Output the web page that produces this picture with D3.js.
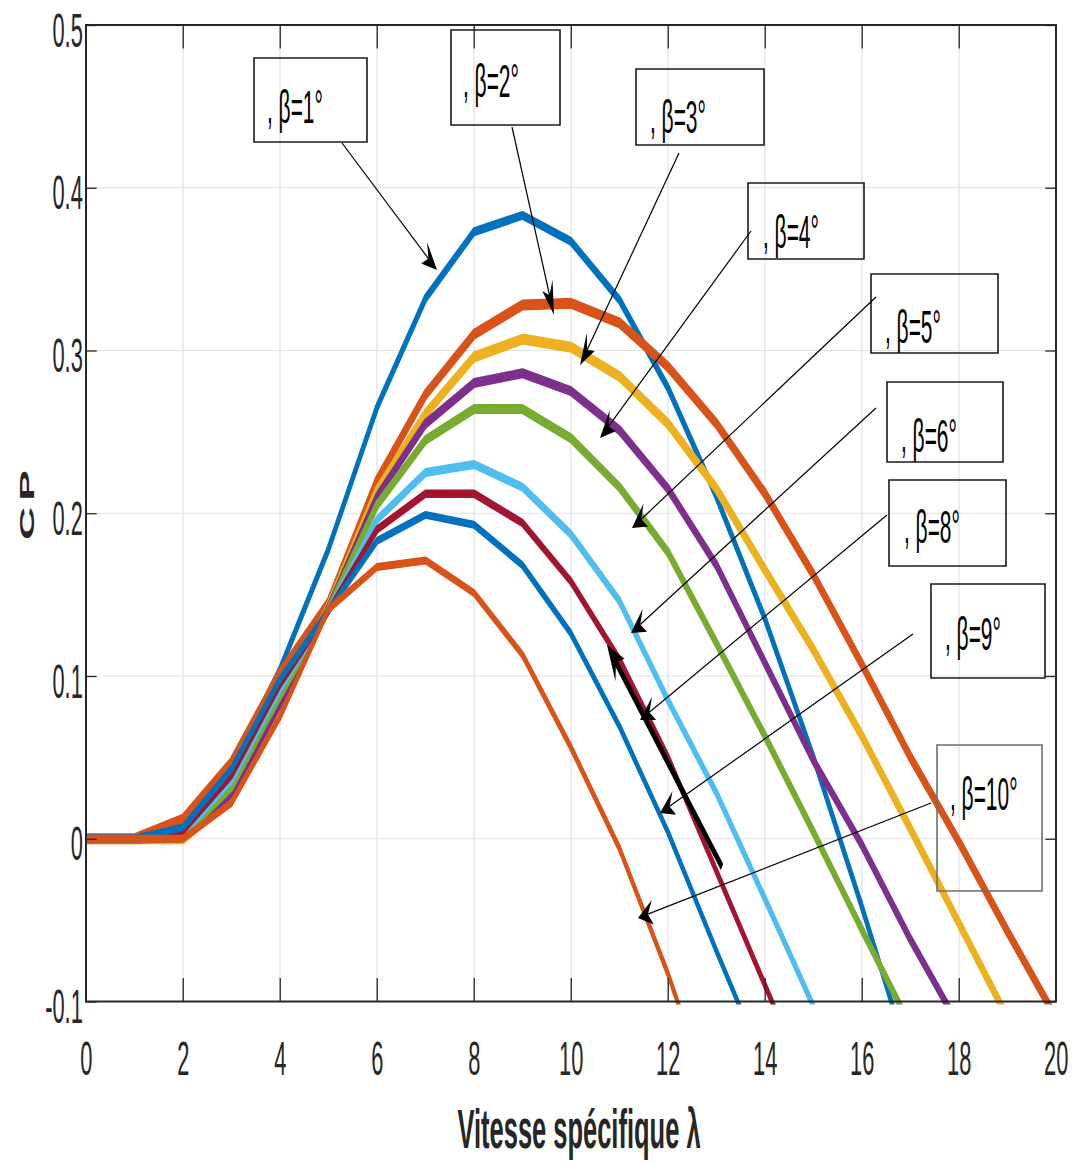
<!DOCTYPE html>
<html>
<head>
<meta charset="utf-8">
<script src="https://cdn.jsdelivr.net/npm/d3@7"></script>
<style>
  html, body { margin: 0; padding: 0; background: #fff; }
  svg { display: block; }
  text { font-family: "Liberation Sans", Arial, Helvetica, sans-serif; }
</style>
</head>
<body>
<svg id="chart" width="1083" height="1163"></svg>
<script>
// ---------------- data ----------------
const lambda = d3.range(0, 21);                      // λ = 0,1,...,20
const seriesLabels = [", β=1°", ", β=2°", ", β=3°", ", β=4°", ", β=5°", ", β=6°", ", β=8°", ", β=9°", ", β=10°"];
const cpBeta1  = [0, 0, 0.007, 0.043, 0.104, 0.178, 0.265, 0.332, 0.373, 0.383, 0.367, 0.331, 0.277, 0.210, 0.135, 0.050, -0.042, -0.138];
const cpBeta2  = [0, 0, 0.012, 0.047, 0.102, 0.145, 0.220, 0.273, 0.310, 0.328, 0.329, 0.317, 0.290, 0.255, 0.212, 0.162, 0.107, 0.050, -0.002, -0.057, -0.110];
const cpBeta3  = [0, 0, 0.000, 0.025, 0.079, 0.143, 0.214, 0.261, 0.296, 0.307, 0.302, 0.284, 0.255, 0.215, 0.165, 0.116, 0.063, 0.006, -0.052, -0.110];
const cpBeta4  = [0, 0, 0.001, 0.028, 0.083, 0.142, 0.210, 0.255, 0.280, 0.286, 0.275, 0.251, 0.215, 0.168, 0.108, 0.048, -0.004, -0.062, -0.115];
const cpBeta5  = [0, 0, 0.002, 0.032, 0.088, 0.141, 0.205, 0.245, 0.264, 0.264, 0.246, 0.216, 0.176, 0.120, 0.063, 0.004, -0.056, -0.115];
const cpBeta6  = [0, 0, 0.003, 0.036, 0.092, 0.140, 0.196, 0.225, 0.230, 0.216, 0.187, 0.146, 0.085, 0.028, -0.037, -0.103];
const cpBeta8  = [0, 0, 0.005, 0.039, 0.095, 0.140, 0.190, 0.212, 0.212, 0.194, 0.158, 0.110, 0.050, -0.020, -0.090, -0.160];
const cpBeta9  = [0, 0, 0.007, 0.043, 0.098, 0.140, 0.183, 0.199, 0.193, 0.168, 0.126, 0.069, 0.004, -0.069, -0.140];
const cpBeta10 = [0, 0, 0.000, 0.022, 0.075, 0.141, 0.167, 0.171, 0.151, 0.113, 0.056, -0.006, -0.083, -0.170];
const seriesValues = [cpBeta1, cpBeta2, cpBeta3, cpBeta4, cpBeta5, cpBeta6, cpBeta8, cpBeta9, cpBeta10];
const xTicks = [0, 2, 4, 6, 8, 10, 12, 14, 16, 18, 20];
const yTicks = [-0.1, 0, 0.1, 0.2, 0.3, 0.4, 0.5];
const yTickLabels = ["-0.1", "0", "0.1", "0.2", "0.3", "0.4", "0.5"];
const xLabel = "Vitesse spécifique λ";
const yLabel = "CP";

// ---------------- styles ----------------
const colors = ["#0072BD", "#D95319", "#EDB120", "#7E2F8E", "#77AC30", "#4DBEEE", "#A2142F", "#0072BD", "#D95319"];
const widths = [9, 11, 11, 10, 10, 9, 8.5, 8, 8];

// the figure is horizontally squeezed: draw in unsqueezed space, then scale x
const S = 0.455;
const X0 = 86 / S, X1 = 1056 / S, Y0 = 25, Y1 = 1001.5;

// annotation layout (figure pixels, as MATLAB figure annotations)
const notes = [
  {box: [254, 58, 367, 142],  text: [267, 123], tail: [342, 143], tip: [437, 270]},
  {box: [451, 30, 560, 125],  text: [463, 97],  tail: [512, 127], tip: [554, 315]},
  {box: [636, 69, 764, 145],  text: [650, 133], tail: [679, 153], tip: [580, 365]},
  {box: [748, 183, 864, 259], text: [763, 248], tail: [751, 231], tip: [600, 438]},
  {box: [871, 274, 998, 353], text: [885, 343], tail: [876, 297], tip: [632, 528]},
  {box: [887, 382, 1003, 462],text: [901, 452], tail: [876, 408], tip: [631, 633]},
  {box: [889, 480, 1006, 566],text: [904, 543], tail: [887, 515], tip: [640, 720]},
  {box: [931, 584, 1045, 678],text: [945, 650], tail: [913, 634], tip: [660, 813]},
  {box: [937, 745, 1042, 891],text: [950, 810], tail: [931, 803], tip: [638, 918], gray: true}
];
const bigArrow = {tail: [722, 867], tip: [607, 645]};

// ---------------- drawing ----------------
const svg = d3.select("#chart");
const root = svg.append("g").attr("transform", `scale(${S},1)`);

const x = d3.scaleLinear().domain([0, 20]).range([X0, X1]);
const y = d3.scaleLinear().domain([-0.1, 0.5]).range([Y1, Y0]);

svg.append("defs").append("clipPath").attr("id", "plotclip")
  .append("rect").attr("x", X0).attr("y", Y0).attr("width", X1 - X0).attr("height", Y1 - Y0 + 3);

// grid
const grid = root.append("g");
grid.selectAll("line.gx").data(xTicks.slice(1, -1)).join("line")
  .attr("x1", d => x(d)).attr("x2", d => x(d)).attr("y1", Y0).attr("y2", Y1)
  .attr("stroke", "#e1e1e1").attr("stroke-width", 1.2).attr("vector-effect", "non-scaling-stroke");
grid.selectAll("line.gy").data(yTicks.slice(1, -1)).join("line")
  .attr("x1", X0).attr("x2", X1).attr("y1", d => y(d)).attr("y2", d => y(d))
  .attr("stroke", "#e1e1e1").attr("stroke-width", 1.2).attr("vector-effect", "non-scaling-stroke");

// data lines
const line = d3.line().x((d, i) => x(lambda[i])).y(d => y(d));
const lines = root.append("g").attr("clip-path", "url(#plotclip)");
seriesValues.forEach((vals, i) => {
  lines.append("path").datum(vals)
    .attr("d", line)
    .attr("fill", "none")
    .attr("stroke", colors[i])
    .attr("stroke-width", widths[i])
    .attr("stroke-linejoin", "round");
});

// axes
const axisColor = "#262626";
const tickLen = 23.5;
function styleAxis(g) {
  g.select(".domain").remove();
  g.selectAll("line").attr("stroke", axisColor).attr("stroke-width", 1.3).attr("vector-effect", "non-scaling-stroke");
  g.selectAll("text").attr("fill", axisColor).attr("font-size", 48)
    .attr("font-family", "'Liberation Sans', Arial, sans-serif");
}
root.append("g").attr("transform", `translate(0,${Y1})`)
  .call(d3.axisBottom(x).tickValues(xTicks).tickSize(-tickLen).tickPadding(39).tickFormat(d3.format("d")))
  .call(styleAxis);
root.append("g").attr("transform", `translate(0,${Y0})`)
  .call(d3.axisTop(x).tickValues(xTicks).tickSize(-tickLen).tickFormat(""))
  .call(styleAxis);
root.append("g").attr("transform", `translate(${X0},0)`)
  .call(d3.axisLeft(y).tickValues(yTicks).tickSize(-tickLen).tickPadding(7)
    .tickFormat((d, i) => yTickLabels[i]))
  .call(styleAxis)
  .call(g => g.selectAll("text").attr("dy", "0.44em"));
root.append("g").attr("transform", `translate(${X1},0)`)
  .call(d3.axisRight(y).tickValues(yTicks).tickSize(-tickLen).tickFormat(""))
  .call(styleAxis);

root.append("rect").attr("x", X0).attr("y", Y0).attr("width", X1 - X0).attr("height", Y1 - Y0)
  .attr("fill", "none").attr("stroke", axisColor).attr("stroke-width", 2)
  .attr("vector-effect", "non-scaling-stroke");

// axis labels
root.append("text")
  .attr("x", 579 / S).attr("y", 1148)
  .attr("text-anchor", "middle").attr("font-size", 56).attr("font-weight", "bold")
  .attr("fill", axisColor).text(xLabel);
root.append("text")
  .attr("transform", `translate(${34 / S},502) rotate(-90)`)
  .attr("text-anchor", "middle").attr("font-size", 46).attr("font-weight", "bold")
  .attr("letter-spacing", 6)
  .attr("fill", axisColor).text(yLabel);

// annotations
function headPath(tail, tip, L, Hw, N) {
  const tx = tail[0] / S, ty = tail[1], px = tip[0] / S, py = tip[1];
  const dx = px - tx, dy = py - ty, len = Math.hypot(dx, dy);
  const ux = dx / len, uy = dy / len, nx = -uy, ny = ux;
  const b1 = [px - ux * L + nx * Hw, py - uy * L + ny * Hw];
  const b2 = [px - ux * L - nx * Hw, py - uy * L - ny * Hw];
  const n = [px - ux * N, py - uy * N];
  return {d: `M${px},${py}L${b1[0]},${b1[1]}L${n[0]},${n[1]}L${b2[0]},${b2[1]}Z`, notch: n};
}

const ann = root.append("g");
// thick black arrow
{
  const h = headPath(bigArrow.tail, bigArrow.tip, 38, 15, 26);
  ann.append("line").attr("x1", bigArrow.tail[0] / S).attr("y1", bigArrow.tail[1])
    .attr("x2", h.notch[0]).attr("y2", h.notch[1])
    .attr("stroke", "#000").attr("stroke-width", 8);
  ann.append("path").attr("d", h.d).attr("fill", "#000");
}
notes.forEach((n, i) => {
  const [bx0, by0, bx1, by1] = n.box;
  ann.append("rect").attr("x", bx0 / S).attr("y", by0).attr("width", (bx1 - bx0) / S).attr("height", by1 - by0)
    .attr("fill", "none").attr("stroke", n.gray ? "#6e6e6e" : "#1a1a1a").attr("stroke-width", 1.6)
    .attr("vector-effect", "non-scaling-stroke");
  ann.append("text").attr("x", n.text[0] / S).attr("y", n.text[1])
    .attr("font-size", 46).attr("fill", "#000").text(seriesLabels[i]);
  const h = headPath(n.tail, n.tip, 33, 12.5, 22);
  ann.append("line").attr("x1", n.tail[0] / S).attr("y1", n.tail[1])
    .attr("x2", h.notch[0]).attr("y2", h.notch[1])
    .attr("stroke", "#000").attr("stroke-width", 1.2).attr("vector-effect", "non-scaling-stroke");
  ann.append("path").attr("d", h.d).attr("fill", "#000");
});
</script>
</body>
</html>
